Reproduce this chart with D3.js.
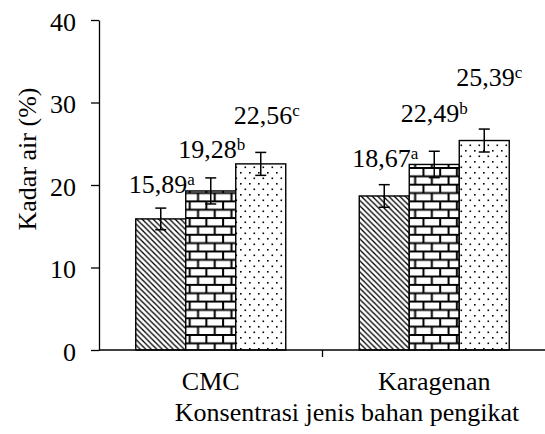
<!DOCTYPE html>
<html>
<head>
<meta charset="utf-8">
<script src="https://cdn.jsdelivr.net/npm/d3@7"></script>
<style>
  html, body { margin: 0; padding: 0; background: #fff; }
</style>
</head>
<body>
<svg id="chart" width="545" height="434"></svg>
<script>
// data
var categories = ['CMC', 'Karagenan'];
var series = ['s1', 's2', 's3'];
var values = [[15.89, 19.28, 22.56], [18.67, 22.49, 25.39]];
var errors = [[1.31, 1.58, 1.39], [1.37, 1.6, 1.39]];
var letters = [['a', 'b', 'c'], ['a', 'b', 'c']];
var labels = [['15,89', '19,28', '22,56'], ['18,67', '22,49', '25,39']];
var yTicks = [0, 10, 20, 30, 40];

// label placement (px above error bar top, horizontal nudge)
var labelLift = [[15, 20, 28], [18, 29, 43]];
var labelDx = [[1, 1, 6], [1, 0, 5]];

var FONT = 'Liberation Serif';
var svg = d3.select('#chart');
var defs = svg.append('defs');

// patterns
var ph = defs.append('pattern').attr('id', 'hatch').attr('patternUnits', 'userSpaceOnUse').attr('width', 5.5).attr('height', 5.5);
ph.append('rect').attr('width', 5.5).attr('height', 5.5).attr('fill', '#fff');
ph.append('path').attr('d', 'M-1,-1 L6.5,6.5 M-1,4.5 L1,6.5 M4.5,-1 L6.5,1').attr('stroke', '#000').attr('stroke-width', 1.3);

var BW = 16.7, BH = BW / 2;
var pb = defs.append('pattern').attr('id', 'brick').attr('patternUnits', 'userSpaceOnUse').attr('width', BW).attr('height', BW);
pb.append('rect').attr('width', BW).attr('height', BW).attr('fill', '#fff');
pb.append('path').attr('d', 'M0,1 H' + BW + ' M0,' + (BH + 1) + ' H' + BW + ' M6,1 V' + (BH + 1) + ' M' + (6 + BH) + ',' + (BH + 1) + ' V' + (BW + 1))
  .attr('stroke', '#000').attr('stroke-width', 2);

var pd = defs.append('pattern').attr('id', 'dots').attr('patternUnits', 'userSpaceOnUse').attr('width', 9).attr('height', 11);
pd.append('rect').attr('width', 9).attr('height', 11).attr('fill', '#fff');
pd.append('rect').attr('x', 1.5).attr('y', 1.5).attr('width', 1.6).attr('height', 1.6).attr('fill', '#000');
pd.append('rect').attr('x', 6).attr('y', 7).attr('width', 1.6).attr('height', 1.6).attr('fill', '#000');
var fills = ['url(#hatch)', 'url(#brick)', 'url(#dots)'];

// scales
var y = d3.scaleLinear().domain([0, 40]).range([350, 20]);
var x0 = d3.scaleBand().domain(categories).range([99, 546]).padding(0);
var GROUP = 150;
var x1 = d3.scaleBand().domain(series).range([0, GROUP]).padding(0);
var off = (x0.bandwidth() - GROUP) / 2;

// y axis
var yAxis = d3.axisLeft(y).tickValues(yTicks).tickSize(8).tickSizeOuter(0).tickPadding(15);
var gy = svg.append('g').attr('transform', 'translate(99,0)').call(yAxis);
gy.attr('font-family', null).attr('font-size', null);
gy.select('.domain').attr('stroke', '#000').attr('stroke-width', 1.3);
gy.selectAll('.tick line').attr('stroke', '#000').attr('stroke-width', 1.3);
gy.selectAll('.tick text').attr('dy', '0.4em').attr('fill', '#000')
  .attr('font-family', FONT).attr('font-size', 26);

// bars
var flat = [];
categories.forEach(function (c, ci) {
  series.forEach(function (s, si) {
    flat.push({ c: c, s: s, ci: ci, si: si, v: values[ci][si], e: errors[ci][si] });
  });
});
function bx(d) { return x0(d.c) + off + x1(d.s); }
function cx(d) { return bx(d) + x1.bandwidth() / 2; }

svg.append('g').selectAll('rect').data(flat).enter().append('rect')
  .attr('x', bx).attr('y', function (d) { return y(d.v); })
  .attr('width', x1.bandwidth()).attr('height', function (d) { return y(0) - y(d.v); })
  .attr('fill', function (d) { return fills[d.si]; })
  .attr('stroke', '#000').attr('stroke-width', 1.4);

// x axis line + category tick
svg.append('line').attr('x1', 99).attr('x2', 545).attr('y1', y(0)).attr('y2', y(0)).attr('stroke', '#000').attr('stroke-width', 1.3);
svg.append('line').attr('x1', x0('Karagenan')).attr('x2', x0('Karagenan')).attr('y1', y(0)).attr('y2', y(0) + 7).attr('stroke', '#000').attr('stroke-width', 1.3);

// error bars
var eg = svg.append('g').attr('stroke', '#000').attr('stroke-width', 1.5);
flat.forEach(function (d) {
  var xc = cx(d), t = y(d.v + d.e), b = y(d.v - d.e);
  eg.append('line').attr('x1', xc).attr('x2', xc).attr('y1', t).attr('y2', b);
  eg.append('line').attr('x1', xc - 5.5).attr('x2', xc + 5.5).attr('y1', t).attr('y2', t);
  eg.append('line').attr('x1', xc - 5.5).attr('x2', xc + 5.5).attr('y1', b).attr('y2', b);
});

// value labels
var lt = svg.append('g').selectAll('text').data(flat).enter().append('text')
  .attr('x', function (d) { return cx(d) + labelDx[d.ci][d.si]; })
  .attr('y', function (d) { return y(d.v + d.e) - labelLift[d.ci][d.si]; })
  .attr('text-anchor', 'middle').attr('font-family', FONT).attr('font-size', 26).attr('fill', '#000');
lt.append('tspan').text(function (d) { return labels[d.ci][d.si]; });
lt.append('tspan').attr('font-size', 17).attr('dy', -8).text(function (d) { return letters[d.ci][d.si]; });

// category labels
svg.append('g').selectAll('text').data(categories).enter().append('text')
  .attr('x', function (c) { return x0(c) + x0.bandwidth() / 2; }).attr('y', 390)
  .attr('text-anchor', 'middle').attr('font-family', FONT).attr('font-size', 26).attr('fill', '#000')
  .text(function (c) { return c; });

// axis titles
svg.append('text').attr('x', 347).attr('y', 421).attr('text-anchor', 'middle')
  .attr('font-family', FONT).attr('font-size', 26).attr('fill', '#000')
  .text('Konsentrasi jenis bahan pengikat');
svg.append('text').attr('transform', 'translate(36,159) rotate(-90)').attr('text-anchor', 'middle')
  .attr('font-family', FONT).attr('font-size', 26).attr('fill', '#000')
  .text('Kadar air (%)');
</script>
</body>
</html>
